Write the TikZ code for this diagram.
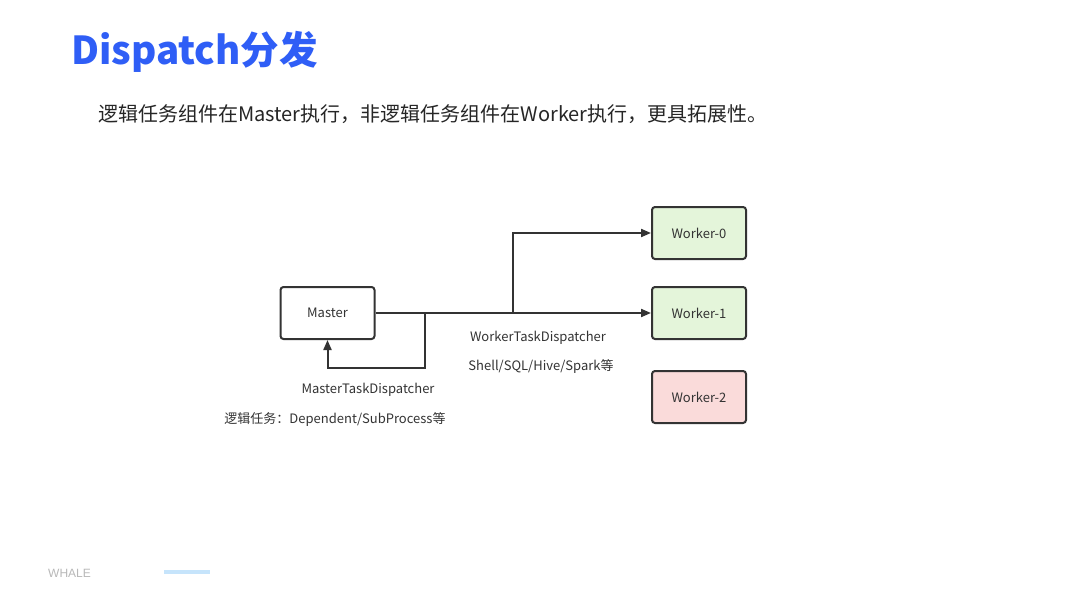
\documentclass[tikz,border=0pt]{standalone}
\usepackage{fontspec}
\setmainfont{Noto Sans CJK SC}
\newfontfamily\whalefont{Liberation Sans}
\usetikzlibrary{arrows.meta}
\definecolor{titleblue}{HTML}{2F5EF6}
\definecolor{linegray}{HTML}{333333}
\definecolor{greenfill}{HTML}{E4F5DA}
\definecolor{pinkfill}{HTML}{FADBDA}
\definecolor{footgray}{HTML}{B8B8B8}
\definecolor{footblue}{HTML}{C6E4FB}
\tikzset{
  box/.style={draw=linegray, line width=2pt, rounded corners=3pt, minimum width=94pt, minimum height=52pt, inner sep=0pt, font=\fontsize{13}{15}\selectfont, text=linegray},
  conn/.style={draw=linegray, line width=2pt, -{Triangle[length=10pt,width=8pt]}},
  lbl/.style={font=\fontsize{13}{15}\selectfont, text=linegray, inner sep=0pt}
}
\begin{document}
\begin{tikzpicture}[x=1pt,y=-1pt]
\useasboundingbox (0,0) rectangle (1080,608);
\fill[white] (0,0) rectangle (1080,608);
% title
\node[anchor=west, inner sep=0pt, text=titleblue, font=\fontsize{38.5}{42}\selectfont\bfseries] (title) at (71,52) {Dispatch分发};
\node[anchor=west, inner sep=0pt, text=black!85, font=\fontsize{20}{22}\selectfont] (sub) at (98,114) {逻辑任务组件在Master执行，非逻辑任务组件在Worker执行，更具拓展性。};
% boxes
\node[box] (master) at (327.5,313) {Master};
\node[box, fill=greenfill] (w0) at (699,233) {Worker-0};
\node[box, fill=greenfill] (w1) at (699,313) {Worker-1};
\node[box, fill=pinkfill] (w2) at (699,397) {Worker-2};
% connectors
\coordinate (j1) at (425,313);
\coordinate (j2) at (513,313);
\draw[conn] (master.east) -- (w1.west);
\draw[conn] (j2) |- (w0.west);
\draw[conn] (j1) -- (425,368) -| (master.south);
% labels
\node[lbl] (wl1) at (538,338) {WorkerTaskDispatcher};
\node[lbl] (wl2) at (541,366) {Shell/SQL/Hive/Spark等};
\node[lbl] (ml1) at (368,390) {MasterTaskDispatcher};
\node[lbl] (ml2) at (335,419) {逻辑任务：Dependent/SubProcess等};
% footer
\node[anchor=west, inner sep=0pt, text=footgray, font=\whalefont\fontsize{12}{14}\selectfont] (whale) at (48,573) {WHALE};
\draw[footblue, line width=3.5pt] (164,572) -- (210,572);
\end{tikzpicture}
\end{document}
